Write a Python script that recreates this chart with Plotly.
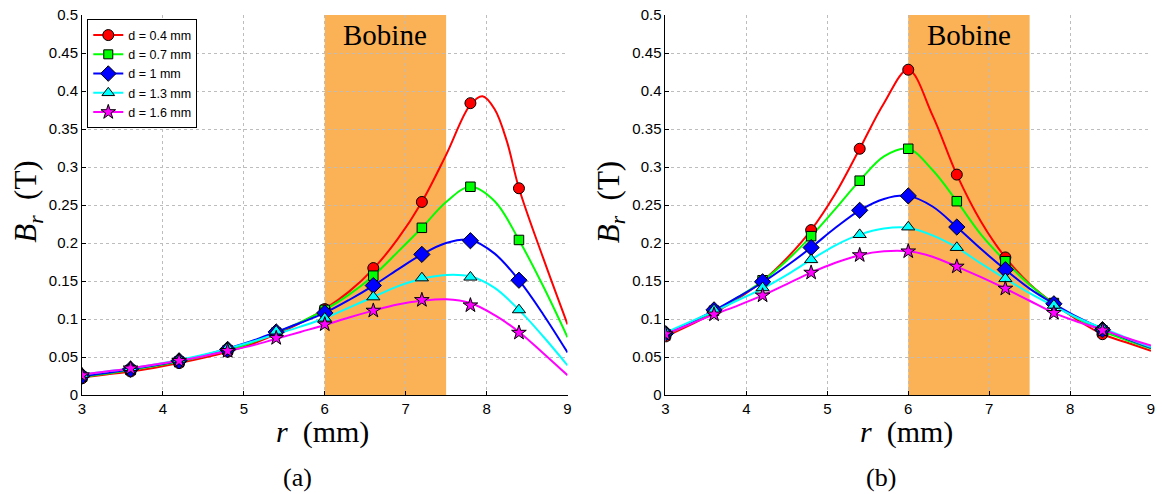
import plotly.graph_objects as go

# ---------------- data ----------------
R_MARK = [3.0, 3.6, 4.2, 4.8, 5.4, 6.0, 6.6, 7.2, 7.8, 8.4]
R_CURVE = [3.0, 3.3, 3.6, 3.9, 4.2, 4.5, 4.8, 5.1, 5.4, 5.7, 6.0,
           6.3, 6.6, 6.9, 7.2, 7.5, 7.8, 8.1, 8.4, 8.7, 9.0]
# denser grid used for the sharply peaked d = 0.4 mm curve of panel (a)
R_CURVE_PEAK = [3.0, 3.3, 3.6, 3.9, 4.2, 4.5, 4.8, 5.1, 5.4, 5.7, 6.0,
                6.3, 6.6, 6.9, 7.2, 7.5, 7.8, 7.95, 8.1, 8.25, 8.4, 8.7, 9.0]

LABELS = ["d = 0.4 mm", "d = 0.7 mm", "d = 1 mm", "d = 1.3 mm", "d = 1.6 mm"]

# panel (a) measured points
a_d04 = [0.022, 0.031, 0.042, 0.057, 0.080, 0.113, 0.167, 0.254, 0.384, 0.272]
a_d07 = [0.024, 0.033, 0.044, 0.059, 0.082, 0.112, 0.157, 0.220, 0.274, 0.204]
a_d10 = [0.025, 0.034, 0.045, 0.060, 0.083, 0.108, 0.144, 0.185, 0.203, 0.151]
a_d13 = [0.027, 0.036, 0.047, 0.062, 0.084, 0.101, 0.129, 0.154, 0.155, 0.112]
a_d16 = [0.026, 0.035, 0.045, 0.058, 0.075, 0.093, 0.111, 0.125, 0.118, 0.082]

# panel (a) fitted curves
a_fit04 = [0.023, 0.027, 0.031, 0.036, 0.042, 0.049, 0.057, 0.067, 0.080, 0.095, 0.113,
           0.136, 0.166, 0.205, 0.254, 0.316, 0.382, 0.393, 0.376, 0.334, 0.272, 0.180, 0.093]
a_fit07 = [0.024, 0.028, 0.033, 0.038, 0.044, 0.051, 0.059, 0.069, 0.082, 0.096, 0.112,
           0.132, 0.157, 0.188, 0.220, 0.254, 0.274, 0.255, 0.204, 0.143, 0.076]
a_fit10 = [0.025, 0.029, 0.034, 0.039, 0.045, 0.052, 0.061, 0.071, 0.083, 0.095, 0.108,
           0.125, 0.144, 0.165, 0.185, 0.200, 0.204, 0.186, 0.151, 0.106, 0.056]
a_fit13 = [0.027, 0.031, 0.035, 0.040, 0.046, 0.053, 0.061, 0.070, 0.080, 0.090, 0.101,
           0.115, 0.129, 0.143, 0.153, 0.158, 0.156, 0.141, 0.112, 0.077, 0.039]
a_fit16 = [0.027, 0.031, 0.035, 0.040, 0.045, 0.051, 0.058, 0.065, 0.074, 0.083, 0.092,
           0.102, 0.111, 0.119, 0.124, 0.126, 0.121, 0.105, 0.083, 0.055, 0.026]

# panel (b) measured points
b_d04 = [0.077, 0.110, 0.150, 0.217, 0.324, 0.428, 0.290, 0.181, 0.120, 0.080]
b_d07 = [0.080, 0.111, 0.151, 0.209, 0.282, 0.324, 0.255, 0.176, 0.121, 0.085]
b_d10 = [0.081, 0.112, 0.149, 0.194, 0.243, 0.262, 0.221, 0.165, 0.120, 0.086]
b_d13 = [0.083, 0.112, 0.141, 0.178, 0.211, 0.221, 0.194, 0.153, 0.118, 0.088]
b_d16 = [0.080, 0.106, 0.131, 0.161, 0.184, 0.189, 0.169, 0.140, 0.108, 0.085]

# panel (b) fitted curves
b_fit04 = [0.077, 0.092, 0.108, 0.127, 0.150, 0.180, 0.217, 0.265, 0.324, 0.384, 0.428,
           0.368, 0.290, 0.228, 0.181, 0.146, 0.120, 0.098, 0.080, 0.069, 0.058]
b_fit07 = [0.079, 0.094, 0.110, 0.129, 0.150, 0.177, 0.209, 0.245, 0.282, 0.314, 0.324,
           0.296, 0.255, 0.211, 0.176, 0.145, 0.120, 0.100, 0.084, 0.072, 0.061]
b_fit10 = [0.080, 0.095, 0.111, 0.129, 0.148, 0.170, 0.194, 0.220, 0.243, 0.258, 0.262,
           0.248, 0.221, 0.192, 0.165, 0.140, 0.120, 0.102, 0.087, 0.074, 0.062]
b_fit13 = [0.082, 0.096, 0.110, 0.125, 0.140, 0.158, 0.178, 0.197, 0.211, 0.219, 0.220,
           0.210, 0.194, 0.173, 0.153, 0.134, 0.117, 0.101, 0.088, 0.075, 0.063]
b_fit16 = [0.080, 0.093, 0.106, 0.118, 0.131, 0.146, 0.161, 0.174, 0.184, 0.189, 0.189,
           0.182, 0.169, 0.155, 0.140, 0.124, 0.108, 0.096, 0.086, 0.075, 0.065]

COIL_RANGE = [6.0, 7.5]
X_TICKS = [3, 4, 5, 6, 7, 8, 9]
Y_TICKS = [0, 0.05, 0.1, 0.15, 0.2, 0.25, 0.3, 0.35, 0.4, 0.45, 0.5]
Y_TICKTEXT = ["0", "0.05", "0.1", "0.15", "0.2", "0.25", "0.3", "0.35", "0.4", "0.45", "0.5"]

# ---------------- styling ----------------
COLORS = ["#FF0000", "#00FF00", "#0000FF", "#00FFFF", "#FF00FF"]
SYMBOLS = ["circle", "square", "diamond", "triangle-up", "star"]
SIZES = [11, 9.5, 12.5, 11.5, 11]
LEG_SIZES = [11, 9, 12, 11, 11]
ORANGE = "#FBB257"

panels = [
    ("x", "y", [a_d04, a_d07, a_d10, a_d13, a_d16], [a_fit04, a_fit07, a_fit10, a_fit13, a_fit16],
     [R_CURVE_PEAK, R_CURVE, R_CURVE, R_CURVE, R_CURVE]),
    ("x2", "y2", [b_d04, b_d07, b_d10, b_d13, b_d16], [b_fit04, b_fit07, b_fit10, b_fit13, b_fit16],
     [R_CURVE] * 5),
]

fig = go.Figure()
for xa, ya, marks, fits, grids in panels:
    for i in range(5):
        fig.add_trace(go.Scatter(
            x=grids[i], y=fits[i], xaxis=xa, yaxis=ya, mode="lines",
            line=dict(color=COLORS[i], width=2, shape="spline"),
            showlegend=False, hoverinfo="skip"))
    for i in range(5):
        fig.add_trace(go.Scatter(
            x=R_MARK, y=marks[i], xaxis=xa, yaxis=ya, mode="markers",
            marker=dict(symbol=SYMBOLS[i], size=SIZES[i], color=COLORS[i],
                        line=dict(color="black", width=1)),
            showlegend=False))

# legend entries
for i in range(5):
    fig.add_trace(go.Scatter(
        x=[None], y=[None], xaxis="x", yaxis="y", mode="lines+markers", name=LABELS[i],
        line=dict(color=COLORS[i], width=2),
        marker=dict(symbol=SYMBOLS[i], size=LEG_SIZES[i], color=COLORS[i],
                    line=dict(color="black", width=1))))

L, R, T, B = 81.7, 6.7, 10.5, 99
W, H = 1162, 494
PW = W - L - R
PH = H - T - B


def px(xp):
    return (xp - L) / PW


def py(yp):
    return (H - B - yp) / PH


axis_common = dict(showline=True, linecolor="black", linewidth=1, mirror=False,
                   ticks="inside", ticklen=4, tickcolor="black",
                   showgrid=True, gridcolor="#bdbdbd", griddash="dot", gridwidth=1,
                   zeroline=False, tickfont=dict(family="Liberation Sans", size=15, color="black"))

xdomA = [0, px(569.3)]
xdomB = [px(667.7), 1]

fig.update_layout(
    width=W, height=H,
    margin=dict(l=L, r=R, t=T, b=B),
    paper_bgcolor="white", plot_bgcolor="white",
    xaxis=dict(domain=xdomA, range=[3, 9], tickvals=X_TICKS, anchor="y", **axis_common),
    yaxis=dict(domain=[0, 1], range=[0, 0.5], tickvals=Y_TICKS, ticktext=Y_TICKTEXT,
               anchor="x", **axis_common),
    xaxis2=dict(domain=xdomB, range=[3, 9], tickvals=X_TICKS, anchor="y2", **axis_common),
    yaxis2=dict(domain=[0, 1], range=[0, 0.5], tickvals=Y_TICKS, ticktext=Y_TICKTEXT,
                anchor="x2", **axis_common),
    legend=dict(x=px(87), y=py(15), xanchor="left", yanchor="top",
                bgcolor="white", bordercolor="black", borderwidth=1,
                font=dict(family="Liberation Sans", size=12.5, color="black"),
                tracegroupgap=0, itemwidth=30, itemsizing="trace"),
    showlegend=True,
)

# coil regions
for xr, yr in [("x", "y"), ("x2", "y2")]:
    fig.add_shape(type="rect", xref=xr, yref=yr, x0=COIL_RANGE[0], x1=COIL_RANGE[1],
                  y0=0, y1=0.5, fillcolor=ORANGE, line=dict(width=0), layer="below")
    fig.add_annotation(xref=xr, yref=yr, x=sum(COIL_RANGE) / 2, y=0.474, text="Bobine",
                       xanchor="center", yanchor="middle", showarrow=False,
                       font=dict(family="Liberation Serif", size=29, color="black"))

serif = "Liberation Serif"
for cx in [323, 910]:
    fig.add_annotation(xref="paper", yref="paper", x=px(cx), y=py(432),
                       text="<i>r</i>  (mm)", showarrow=False,
                       xanchor="center", yanchor="middle",
                       font=dict(family=serif, size=30, color="black"))
for cx, lab in [(298, "(a)"), (884, "(b)")]:
    fig.add_annotation(xref="paper", yref="paper", x=px(cx), y=py(478),
                       text=lab, showarrow=False,
                       xanchor="center", yanchor="middle",
                       font=dict(family=serif, size=26, color="black"))
for cx in [28, 613]:
    fig.add_annotation(xref="paper", yref="paper", x=px(cx), y=py(200),
                       text="<i>B</i><sub><i>r</i></sub>  (T)", textangle=-90, showarrow=False,
                       xanchor="center", yanchor="middle",
                       font=dict(family=serif, size=31, color="black"))

fig.write_html("out.html", config={"displayModeBar": False},
               post_script="document.body.style.margin='0';")
